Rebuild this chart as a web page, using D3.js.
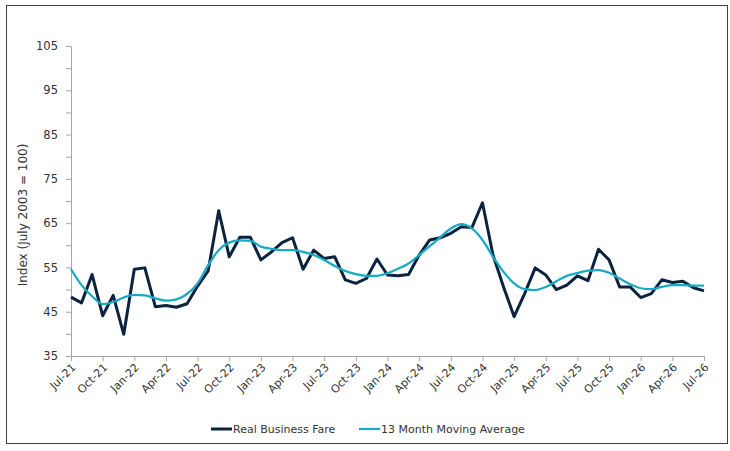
<!DOCTYPE html>
<html>
<head>
<meta charset="utf-8">
<script src="https://cdn.jsdelivr.net/npm/d3@7"></script>
<style>
  body { margin: 0; background: #fff; }
  text { font-family: "DejaVu Sans", Verdana, sans-serif; fill: #333; }
</style>
</head>
<body>
<div id="chart"></div>
<script>
// monthly values, Jul-21 .. Jul-26
const fare = [48.3, 47.0, 53.4, 44.1, 48.7, 39.9, 54.6, 54.9, 46.1, 46.4, 46.0, 46.8,
  50.8, 54.2, 67.8, 57.4, 61.8, 61.8, 56.7, 58.5, 60.6, 61.7, 54.6, 58.9,
  57.0, 57.4, 52.2, 51.4, 52.5, 56.9, 53.3, 53.1, 53.4, 57.8, 61.2, 61.7,
  62.7, 64.2, 64.0, 69.6, 57.8, 50.6, 43.9, 49.1, 54.9, 53.3, 50.0, 51.0,
  53.1, 52.0, 59.1, 56.7, 50.6, 50.6, 48.2, 49.1, 52.2, 51.6, 51.9, 50.4, 49.7];
const movingAvg = [54.6, 51.0, 48.5, 46.7, 47.2, 48.2, 48.8, 48.7, 48.0, 47.5, 47.8, 49.0,
  51.4, 55.5, 58.9, 60.6, 61.1, 61.0, 59.7, 59.2, 58.9, 58.9, 58.5, 57.8,
  56.7, 55.3, 54.2, 53.5, 53.1, 53.1, 53.7, 54.7, 55.9, 57.8, 59.8, 61.8,
  63.8, 64.8, 63.8, 61.2, 57.4, 54.0, 51.4, 50.1, 49.9, 50.6, 51.9, 53.1,
  53.7, 54.3, 54.4, 53.8, 52.5, 51.2, 50.3, 50.1, 50.6, 51.0, 51.0, 50.9, 50.9];
const monthNames = ['Jan','Feb','Mar','Apr','May','Jun','Jul','Aug','Sep','Oct','Nov','Dec'];
const yTicks = d3.range(35, 106, 5);

const width = 730, height = 451;
const m = {left: 71, right: 26, top: 46, bottom: 95};

const svg = d3.select('#chart').append('svg')
  .attr('width', width)
  .attr('height', height);

// frame
svg.append('rect')
  .attr('x', 6.5).attr('y', 5.5)
  .attr('width', 721).attr('height', 438)
  .attr('fill', 'none').attr('stroke', '#404040').attr('stroke-width', 1);

const x = d3.scaleLinear().domain([0, fare.length - 1]).range([m.left, width - m.right]);
const y = d3.scaleLinear().domain([35, 105]).range([height - m.bottom, m.top]);

const label = i => {
  const mo = (6 + i) % 12, yr = 21 + Math.floor((6 + i) / 12);
  return monthNames[mo] + '-' + yr;
};

// x axis
const xAxis = svg.append('g')
  .attr('transform', `translate(0,${height - m.bottom})`)
  .call(d3.axisBottom(x).tickValues(d3.range(0, fare.length, 3)).tickSize(5).tickFormat(label));
xAxis.select('.domain').attr('stroke', '#a6a6a6');
xAxis.selectAll('.tick line').attr('stroke', '#a6a6a6');
xAxis.selectAll('.tick text')
  .attr('font-size', 11)
  .attr('text-anchor', 'end')
  .attr('dy', 0).attr('y', 0)
  .attr('transform', 'translate(5,12) rotate(-45)');

// y axis
const yAxis = svg.append('g')
  .attr('transform', `translate(${m.left},0)`)
  .call(d3.axisLeft(y).tickValues(yTicks).tickSize(5).tickPadding(8)
    .tickFormat(d => (d - 35) % 10 === 0 ? d : ''));
yAxis.select('.domain').attr('stroke', '#a6a6a6');
yAxis.selectAll('.tick line').attr('stroke', '#a6a6a6');
yAxis.selectAll('.tick text').attr('font-size', 11.5);

svg.append('text')
  .attr('transform', 'translate(27,215) rotate(-90)')
  .attr('text-anchor', 'middle')
  .attr('font-size', 12)
  .text('Index (July 2003 = 100)');

// lines
const straight = d3.line().x((d, i) => x(i)).y(d => y(d));
const smooth = d3.line().x((d, i) => x(i)).y(d => y(d)).curve(d3.curveMonotoneX);

svg.append('path')
  .attr('d', straight(fare))
  .attr('fill', 'none').attr('stroke', '#0c2340').attr('stroke-width', 3)
  .attr('stroke-linejoin', 'round');

svg.append('path')
  .attr('d', smooth(movingAvg))
  .attr('fill', 'none').attr('stroke', '#17aac4').attr('stroke-width', 2.25);

// legend
const legend = [
  {name: 'Real Business Fare', color: '#0c2340', w: 3, x0: 211},
  {name: '13 Month Moving Average', color: '#17aac4', w: 2.25, x0: 359}
];
const lg = svg.append('g').selectAll('g').data(legend).join('g')
  .attr('transform', d => `translate(${d.x0},429)`);
lg.append('line')
  .attr('x1', 0).attr('x2', 21).attr('y1', 0).attr('y2', 0)
  .attr('stroke', d => d.color).attr('stroke-width', d => d.w);
lg.append('text')
  .attr('x', 22).attr('y', 4)
  .attr('font-size', 11)
  .text(d => d.name);
</script>
</body>
</html>
